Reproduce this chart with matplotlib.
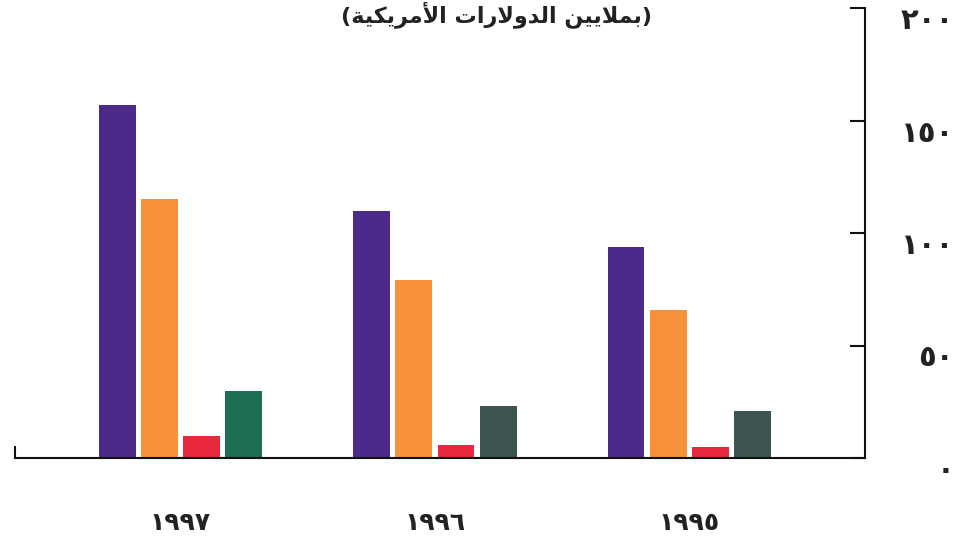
import matplotlib
matplotlib.use("Agg")
import matplotlib.pyplot as plt
import matplotlib.transforms as mtransforms
import numpy as np

# Years (Arabic-Indic digits), left to right
years = ["١٩٩٧", "١٩٩٦", "١٩٩٥"]

# Four series per year (millions of US dollars)
series_a = [157, 110, 94]
series_b = [115, 79, 66]
series_c = [10, 6, 5]
series_d = [30, 23, 21]

y_ticks = [0, 50, 100, 150, 200]
y_tick_labels = ["٠", "٥٠", "١٠٠", "١٥٠", "٢٠٠"]

colors_a = ["#4b2a8a"] * 3
colors_b = ["#f7923a"] * 3
colors_c = ["#e8283c"] * 3
colors_d = ["#1d6e52", "#3e5450", "#3e5450"]

# "(بملايين الدولارات الأمريكية)" in shaped presentation forms, visual order
title = ("(" + "\ufe94\ufef4\ufedc\ufef3\ufeae\ufee3\ufef7\ufe8d" + " "
         + "\ufe95\ufe8d\ufead\ufefb\ufeed\ufeaa\ufedf\ufe8d" + " "
         + "\ufee6\ufef4\ufef3\ufefc\ufee4\ufe91" + ")")

fig = plt.figure(figsize=(9.54, 5.40), dpi=100)
ax = fig.add_axes([15 / 954, 1 - 458 / 540, 850 / 954, 450 / 540])

x = np.arange(len(years))
width = 0.145
step = 0.166
offsets = [-1.5 * step, -0.5 * step, 0.5 * step, 1.5 * step]
for off, vals, cols in zip(offsets, [series_a, series_b, series_c, series_d],
                           [colors_a, colors_b, colors_c, colors_d]):
    ax.bar(x + off, vals, width=width, color=cols, linewidth=0)

ax.set_xlim(-0.65, 2.69)
ax.set_ylim(0, 200)

ax.spines["top"].set_visible(False)
ax.spines["left"].set_bounds(0, 5)
for s in ["left", "right", "bottom"]:
    ax.spines[s].set_linewidth(1.5)
    ax.spines[s].set_color("#111111")

ax.yaxis.tick_right()
ax.set_yticks(y_ticks)
ax.set_yticklabels(y_tick_labels, fontsize=21, fontweight="bold",
                   family="DejaVu Sans", ha="right", color="#222222")
ax.tick_params(axis="y", direction="in", length=11, width=1.5, pad=64,
               colors="#111111", labelcolor="#222222")
# value labels sit a little below their tick marks
shift = mtransforms.ScaledTranslation(0, -10 / 100, fig.dpi_scale_trans)
for lbl in ax.get_yticklabels():
    lbl.set_transform(lbl.get_transform() + shift)

ax.set_xticks(x)
ax.set_xticklabels(years, fontsize=18, fontweight="bold", family="DejaVu Sans",
                   color="#222222")
ax.tick_params(axis="x", length=0, pad=38)

fig.text(0.52, 1.0 - 1 / 540, title, ha="center", va="top",
         fontsize=16, fontweight="bold", family="DejaVu Sans", color="#222222")

fig.savefig("out.png", dpi=100)
